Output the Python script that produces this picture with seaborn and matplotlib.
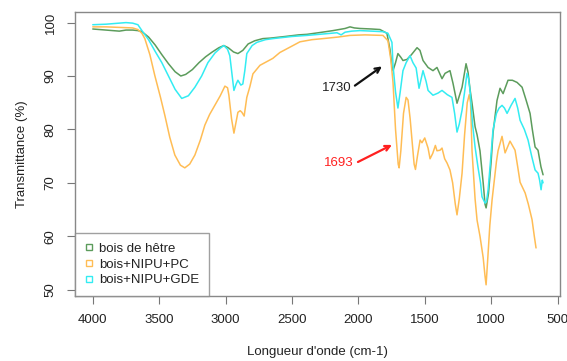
import numpy as np
import pandas as pd
import matplotlib
matplotlib.use("Agg")
import matplotlib.pyplot as plt
from matplotlib.lines import Line2D
import seaborn as sns

# wavenumbers (cm-1) and transmittance (%)
wn_hetre = [4000, 3900, 3800, 3750, 3700, 3660, 3630, 3580, 3530, 3480, 3430, 3380, 3337, 3300,
            3250, 3200, 3150, 3100, 3050, 3013, 2980, 2940, 2907, 2870, 2830, 2780, 2720, 2660,
            2550, 2450, 2387, 2300, 2191, 2100, 2063, 2030, 1988, 1900, 1837, 1785, 1762, 1747,
            1739, 1720, 1702, 1680, 1664, 1634, 1600, 1558, 1536, 1513, 1475, 1438, 1408, 1370,
            1347, 1310, 1287, 1257, 1219, 1189, 1174, 1159, 1144, 1121, 1106, 1084, 1060, 1046,
            1038, 1020, 1000, 986, 956, 933, 910, 873, 840, 805, 767, 737, 707, 690, 669, 647,
            625, 609]
t_hetre = [98.8, 98.6, 98.4, 98.6, 98.6, 98.5, 98.3, 97.3, 95.8, 94.0, 92.3, 90.8, 90.0, 90.3,
           91.2, 92.5, 93.6, 94.5, 95.3, 95.7, 95.3, 94.5, 94.2, 94.8, 96.0, 96.6, 97.0, 97.1,
           97.4, 97.7, 97.8, 98.1, 98.5, 98.9, 99.2, 99.0, 98.9, 98.8, 98.7, 98.0, 95.0, 91.8,
           91.0, 92.5, 94.2, 93.5, 92.9, 93.1, 94.0, 95.3, 94.8, 92.9, 91.6, 91.0, 91.6, 89.5,
           90.5, 91.0, 88.6, 84.9, 87.9, 92.3, 90.7, 87.5, 84.9, 80.5, 79.0, 76.0, 70.0, 66.0,
           65.3, 68.0, 74.0, 79.3, 85.4, 87.7, 86.7, 89.2, 89.2, 88.8, 87.9, 85.5, 83.0, 80.0,
           76.7, 76.1, 73.0, 71.5]

wn_pc = [4000, 3900, 3800, 3700, 3660, 3630, 3608, 3570, 3533, 3490, 3457, 3420, 3382, 3340,
         3307, 3270, 3231, 3190, 3156, 3120, 3081, 3040, 3005, 2985, 2975, 2955, 2937, 2920,
         2907, 2890, 2877, 2860, 2840, 2817, 2794, 2741, 2644, 2591, 2500, 2440, 2350, 2267,
         2150, 2063, 1950, 1815, 1777, 1755, 1739, 1720, 1700, 1693, 1680, 1660, 1640, 1626,
         1610, 1596, 1580, 1570, 1555, 1535, 1521, 1500, 1475, 1460, 1440, 1420, 1408, 1385,
         1370, 1350, 1332, 1310, 1290, 1270, 1257, 1240, 1219, 1200, 1180, 1165, 1155, 1144,
         1121, 1106, 1084, 1060, 1046, 1038, 1025, 1010, 993, 960, 948, 918, 895, 858, 820,
         800, 782, 744, 720, 692, 675, 662]
t_pc = [99.2, 99.2, 99.1, 99.0, 98.7, 98.0, 97.0, 94.0, 90.1, 86.0, 82.6, 78.5, 75.2, 73.3,
        72.8, 73.5, 75.2, 78.0, 80.8, 82.8, 84.5, 86.3, 88.1, 87.8, 86.4, 82.0, 79.3, 81.5,
        83.2, 83.5, 83.2, 82.5, 86.0, 88.0, 90.4, 92.0, 93.3, 94.4, 95.6, 96.4, 96.8, 97.0,
        97.3, 97.6, 97.7, 97.6, 96.6, 93.0, 88.8, 80.0, 73.5, 72.8, 76.0, 83.0, 86.0, 85.5,
        82.0, 78.0, 73.5, 72.5, 75.0, 78.0, 77.5, 78.4, 76.5, 74.5, 75.5, 77.0, 76.0, 76.1,
        76.5, 74.5, 73.7, 72.4, 70.0, 66.0, 64.0, 67.0, 71.8, 79.0, 85.0, 86.5, 85.0, 76.0,
        67.0, 63.0, 60.0, 56.0, 52.5, 50.9, 56.0, 62.0, 66.8, 74.0, 76.0, 78.7, 75.6, 77.8,
        76.1, 73.0, 70.1, 68.1, 66.0, 63.1, 60.0, 57.8]

wn_gde = [4000, 3900, 3800, 3750, 3700, 3660, 3630, 3580, 3530, 3480, 3430, 3380, 3330, 3280,
          3231, 3180, 3133, 3080, 3040, 3013, 2985, 2968, 2950, 2937, 2920, 2907, 2885, 2870,
          2855, 2840, 2800, 2764, 2700, 2644, 2500, 2387, 2250, 2161, 2130, 2100, 2050, 1988,
          1900, 1815, 1777, 1747, 1739, 1720, 1702, 1685, 1664, 1640, 1611, 1589, 1565, 1543,
          1513, 1490, 1475, 1438, 1400, 1370, 1330, 1295, 1275, 1257, 1240, 1219, 1200, 1182,
          1170, 1159, 1140, 1121, 1099, 1080, 1069, 1046, 1035, 1023, 1005, 986, 960, 940,
          918, 900, 880, 850, 820, 800, 782, 750, 722, 695, 669, 647, 635, 624, 615, 609]
t_gde = [99.6, 99.7, 99.9, 100.0, 99.9, 99.6, 98.5, 96.8, 94.6, 92.5, 90.0, 87.5, 85.8, 86.3,
         87.9, 90.0, 92.5, 94.3, 95.2, 95.7, 95.0, 93.8, 90.0, 87.3, 88.5, 89.2, 88.3, 88.5,
         91.0, 94.2, 95.7, 96.3, 96.8, 97.0, 97.4, 97.6, 97.9, 98.1, 97.7, 98.2, 98.4, 98.5,
         98.4, 98.3, 98.0, 96.3, 92.0, 87.0, 84.0, 87.0, 91.0, 92.5, 93.8, 92.5, 91.5, 87.7,
         91.0, 89.0, 87.3, 86.4, 86.8, 87.3, 86.5, 86.0, 83.0, 79.5, 81.0, 83.6, 87.0, 90.5,
         89.5, 87.3, 81.0, 76.7, 72.9, 70.0, 67.4, 66.2, 66.5, 68.7, 74.0, 79.9, 83.0, 84.0,
         84.5, 84.0, 83.0, 84.5, 85.8, 84.0, 81.7, 80.0, 78.0, 75.0, 72.4, 71.8, 70.5, 68.7,
         70.5, 70.0]

labels = ["bois de hêtre", "bois+NIPU+PC", "bois+NIPU+GDE"]
colors = ["#5c9c5c", "#ffbd55", "#33ecf2"]

df = pd.concat([
    pd.DataFrame({"wn": wn_hetre, "t": t_hetre, "serie": labels[0]}),
    pd.DataFrame({"wn": wn_pc, "t": t_pc, "serie": labels[1]}),
    pd.DataFrame({"wn": wn_gde, "t": t_gde, "serie": labels[2]}),
])

sns.set_style("white")
plt.rcParams["font.family"] = ["Liberation Sans", "DejaVu Sans"]
plt.rcParams["font.size"] = 9.5

fig = plt.figure(figsize=(5.67, 3.61), dpi=100)
ax = fig.add_axes([0.132, 0.180, 0.856, 0.787])

sns.lineplot(data=df, x="wn", y="t", hue="serie", hue_order=labels,
             palette=colors, linewidth=1.1, estimator=None, sort=False,
             legend=False, ax=ax)

ax.set_xlim(4135, 480)
ax.set_ylim(48.8, 102)
ax.set_xticks([4000, 3500, 3000, 2500, 2000, 1500, 1000, 500])
ax.set_yticks([50, 60, 70, 80, 90, 100])
for lab in ax.get_yticklabels():
    lab.set_rotation(90)
    lab.set_va("center")
ax.tick_params(axis="both", direction="out", length=6, width=0.8,
               color="#777777", labelcolor="#222222", labelsize=9.5, pad=7)
ax.tick_params(axis="x", bottom=True)
ax.tick_params(axis="y", left=True)
for sp in ax.spines.values():
    sp.set_color("#888888")
    sp.set_linewidth(1.0)

ax.set_xlabel("Longueur d'onde (cm-1)", fontsize=9.5, color="#222222", labelpad=14)
ax.set_ylabel("Transmittance (%)", fontsize=9.5, color="#222222", labelpad=12)

# annotations
ax.text(2161, 87.7, "1730", ha="center", va="center", fontsize=9.5, color="#222222")
ax.annotate("", xy=(1822, 91.8), xytext=(2026, 88.2),
            arrowprops=dict(arrowstyle="->", color="#111111", lw=1.6,
                            mutation_scale=9, shrinkA=0, shrinkB=0))
ax.text(2146, 73.7, "1693", ha="center", va="center", fontsize=9.5, color="#ff2020")
ax.annotate("", xy=(1747, 77.1), xytext=(2003, 73.9),
            arrowprops=dict(arrowstyle="->", color="#ff2020", lw=1.6,
                            mutation_scale=9, shrinkA=0, shrinkB=0))

handles = [Line2D([], [], linestyle="none", marker="s", markersize=5,
                  markerfacecolor="none", markeredgecolor=c, markeredgewidth=1.0)
           for c in colors]
leg = ax.legend(handles, labels, loc="lower left", bbox_to_anchor=(0.0, 0.0),
                frameon=True, fancybox=False, fontsize=9.5, handlelength=0.6,
                handletextpad=0.47, borderpad=0.75, labelspacing=0.25,
                borderaxespad=0)
leg.get_frame().set_edgecolor("#888888")
leg.get_frame().set_linewidth(1.0)
for t in leg.get_texts():
    t.set_color("#222222")

fig.savefig("out.png", dpi=100)
